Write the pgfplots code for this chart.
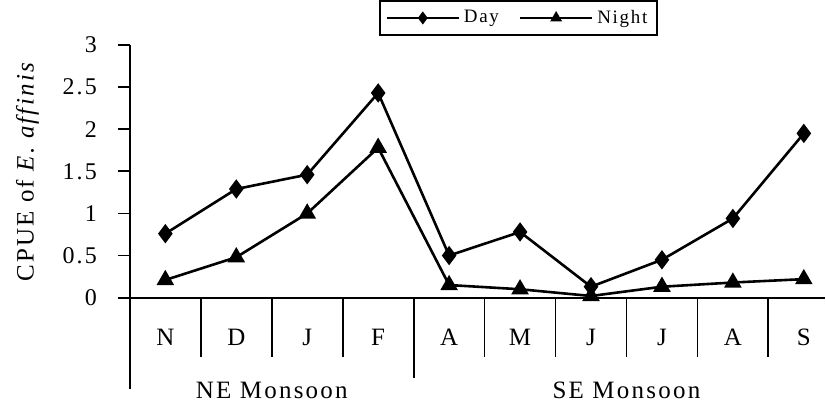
\documentclass[border=0pt]{standalone}
\usepackage{pgfplots}
\pgfplotsset{compat=1.18}
\usepackage{fontspec}
\setmainfont{Liberation Serif}[LetterSpace=9]
\begin{document}
\begin{tikzpicture}
\begin{axis}[
  scale only axis,
  width=348pt, height=126.5pt,
  xmin=-0.5, xmax=9.3, ymin=0, ymax=3,
  axis x line=bottom, axis y line=left,
  axis line style={-, line width=0.9pt},
  xtick=\empty,
  ytick={0,0.5,1,1.5,2,2.5,3},
  yticklabels={0,0.5,1,1.5,2,2.5,3},
  tick align=outside,
  major tick length=6pt,
  tick style={line width=0.9pt, black},
  yticklabel style={font=\fontsize{12}{12}\selectfont, xshift=-7pt},
  ylabel={CPUE of \textit{E. affinis}},
  ylabel style={font=\fontsize{12.5}{13}\selectfont, yshift=5pt},
  clip=false,
  legend columns=2,
  legend style={at={(0.559,1)}, anchor=south, yshift=4.5pt, draw=black, line width=0.9pt,
    font=\fontsize{9.5}{9.5}\selectfont, inner ysep=2.5pt, inner xsep=3pt,
    /tikz/every even column/.append style={column sep=8pt}},
  legend image code/.code={
    \draw[#1, line width=1.2pt] (0pt,0pt) -- (36pt,0pt);
    \draw[#1, only marks, mark size=2.2pt] plot coordinates {(18pt,0pt)};
  },
]
\addplot[black, line width=1.3pt, mark=diamond*, mark size=3.8pt, mark options={solid}]
  coordinates {(0,0.76) (1,1.29) (2,1.46) (3,2.43) (4,0.50) (5,0.78) (6,0.13) (7,0.45) (8,0.94) (9,1.95)};
\addlegendentry{Day}
\addplot[black, line width=1.3pt, mark=triangle*, mark size=3.8pt, mark options={solid}]
  coordinates {(0,0.21) (1,0.48) (2,1.00) (3,1.78) (4,0.15) (5,0.10) (6,0.02) (7,0.13) (8,0.18) (9,0.22)};
\addlegendentry{Night}
% category dividers
\foreach \d in {0.5,1.5,2.5,4.5,5.5,6.5,7.5,8.5} {
  \edef\temp{\noexpand\draw[line width=0.9pt] (axis cs:\d,0) -- (axis cs:\d,-0.7);}
  \temp
}
\draw[line width=0.9pt] (axis cs:3.5,0) -- (axis cs:3.5,-0.95);
\draw[line width=0.9pt] (axis cs:-0.5,0) -- (axis cs:-0.5,-1.08);
% month labels
\foreach \x/\m in {0/N,1/D,2/J,3/F,4/A,5/M,6/J,7/J,8/A,9/S} {
  \edef\temp{\noexpand\node[font=\noexpand\fontsize{12.5}{13}\noexpand\selectfont] at (axis cs:\x,-0.47) {\m};}
  \temp
}
\node[font=\fontsize{12.5}{13}\selectfont] at (axis cs:1.5,-1.1) {NE Monsoon};
\node[font=\fontsize{12.5}{13}\selectfont] at (axis cs:6.5,-1.1) {SE Monsoon};
\path (axis cs:-0.5,0) ++(-65pt,0pt);
\end{axis}
\end{tikzpicture}
\end{document}
